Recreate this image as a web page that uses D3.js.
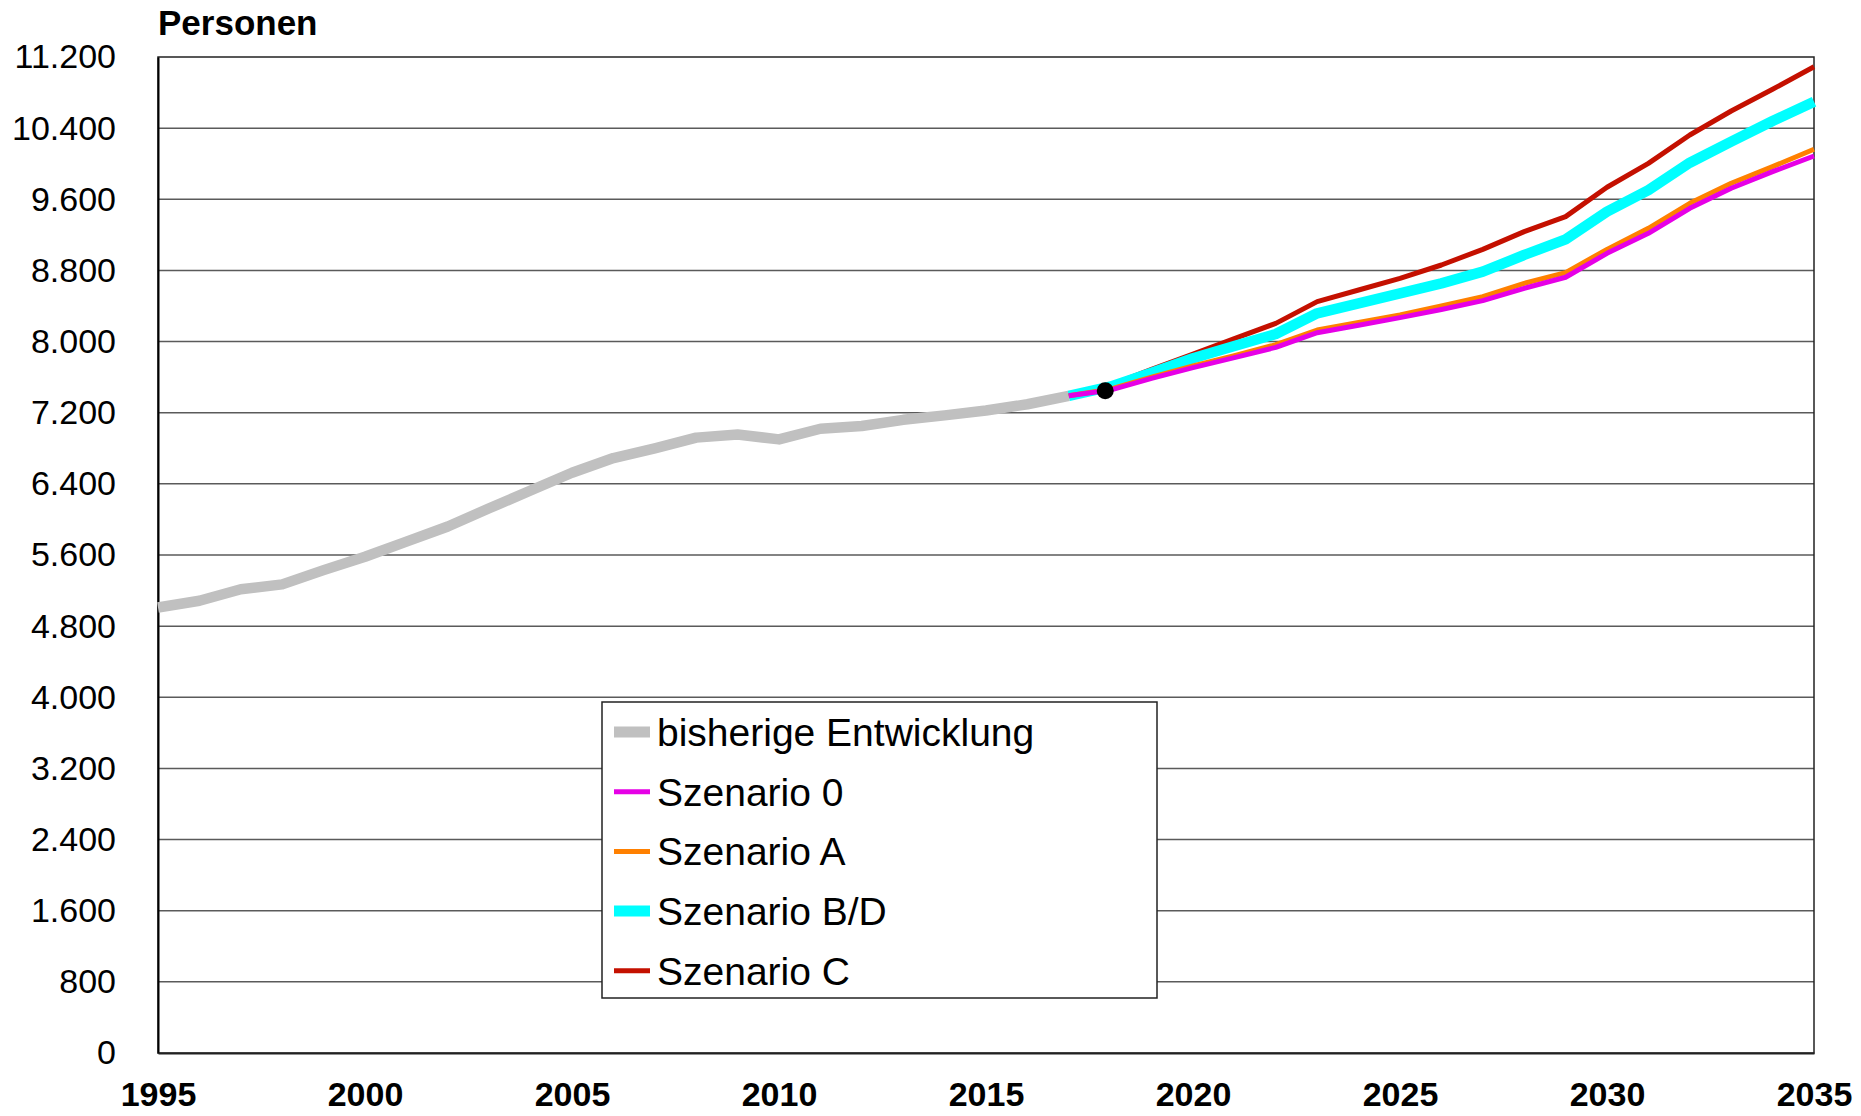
<!DOCTYPE html>
<html>
<head>
<meta charset="utf-8">
<script src="https://cdn.jsdelivr.net/npm/d3@7"></script>
<style>
  body { margin: 0; background: #fff; }
  text { font-family: "Liberation Sans", Arial, sans-serif; }
</style>
</head>
<body>
<div id="chart"></div>
<script>
// historical values 1995-2017
var histYears = d3.range(1995, 2018);
var histValues = [5010, 5085, 5215, 5270, 5430, 5580, 5750, 5920, 6125, 6325, 6525, 6690,
                  6800, 6920, 6955, 6900, 7020, 7050, 7120, 7170, 7225, 7295, 7390];

// projections 2017-2035
var projYears = d3.range(2017, 2036);
var scen0  = [7390, 7455, 7587, 7707, 7819, 7935, 8100, 8183, 8269, 8360, 8460, 8599, 8723, 8992, 9217, 9499, 9724, 9911, 10087];
var scenA  = [7390, 7465, 7600, 7725, 7840, 7965, 8130, 8215, 8300, 8400, 8505, 8655, 8775, 9037, 9274, 9555, 9780, 9967, 10162];
var scenBD = [7390, 7493, 7650, 7812, 7950, 8085, 8318, 8430, 8543, 8655, 8786, 8974, 9150, 9461, 9704, 10011, 10248, 10480, 10698];
var scenC  = [7390, 7508, 7688, 7860, 8033, 8205, 8449, 8580, 8711, 8861, 9037, 9236, 9405, 9735, 10004, 10323, 10593, 10837, 11091];

// marked base point (black dot)
var basePoint = [2017.88, 7448];

var xTicks = [1995, 2000, 2005, 2010, 2015, 2020, 2025, 2030, 2035];
var yTicks = d3.range(0, 11201, 800);

var legendLabels = ["bisherige Entwicklung", "Szenario 0", "Szenario A", "Szenario B/D", "Szenario C"];

var svgWidth = 1861, svgHeight = 1116;
var margin = { top: 57, right: 47, bottom: 63, left: 158 };
var width = svgWidth - margin.left - margin.right;
var height = svgHeight - margin.top - margin.bottom;

var svg = d3.select("#chart").append("svg")
    .attr("width", svgWidth)
    .attr("height", svgHeight);

var g = svg.append("g").attr("transform", "translate(" + margin.left + "," + margin.top + ")");

var x = d3.scaleLinear().domain([1995, 2035]).range([0, width]);
var y = d3.scaleLinear().domain([0, 11200]).range([height, 0]);

var de = d3.formatLocale({ decimal: ",", thousands: ".", grouping: [3], currency: ["", "€"] });
var fmt = de.format(",d");

// gridlines
g.selectAll(".grid").data(yTicks.slice(1, -1)).enter().append("line")
    .attr("x1", 0).attr("x2", width)
    .attr("y1", d => y(d)).attr("y2", d => y(d))
    .attr("stroke", "#5a5a5a").attr("stroke-width", 1.5);

// plot border
g.append("rect").attr("x", 0).attr("y", 0).attr("width", width).attr("height", height)
    .attr("fill", "none").attr("stroke", "#222").attr("stroke-width", 1.5);

// y axis labels
var yAxis = d3.axisLeft(y).tickValues(yTicks).tickFormat(fmt).tickSize(0).tickPadding(42);
var gy = g.append("g").call(yAxis);
gy.select(".domain").attr("stroke", "#000").attr("stroke-width", 2);
gy.selectAll("text").attr("font-size", 34).attr("fill", "#000")
    .style("font-family", "'Liberation Sans', Arial, sans-serif");

// x axis labels
var xAxis = d3.axisBottom(x).tickValues(xTicks).tickFormat(d3.format("d")).tickSize(0).tickPadding(29);
var gx = g.append("g").attr("transform", "translate(0," + height + ")").call(xAxis);
gx.select(".domain").attr("stroke", "#222").attr("stroke-width", 2);
gx.selectAll("text").attr("font-size", 34).attr("font-weight", "bold").attr("fill", "#000")
    .style("font-family", "'Liberation Sans', Arial, sans-serif");

// unit label
svg.append("text").attr("x", 158).attr("y", 35)
    .attr("font-size", 35).attr("font-weight", "bold").text("Personen");

var line = d3.line().x(d => x(d[0])).y(d => y(d[1]));

function drawSeries(years, values, color, w) {
    g.append("path")
        .datum(years.map((yr, i) => [yr, values[i]]))
        .attr("d", line)
        .attr("fill", "none")
        .attr("stroke", color)
        .attr("stroke-width", w)
        .attr("stroke-linejoin", "round");
}

drawSeries(histYears, histValues, "#c0c0c0", 10.5);
drawSeries(projYears, scenC, "#c41000", 5);
drawSeries(projYears, scenBD, "#00ffff", 10.5);
drawSeries(projYears, scenA, "#ff8000", 5);
drawSeries(projYears, scen0, "#e600e6", 5);

g.append("circle")
    .attr("cx", x(basePoint[0])).attr("cy", y(basePoint[1]))
    .attr("r", 8.5).attr("fill", "#000");

// legend
var legendColors = ["#c0c0c0", "#e600e6", "#ff8000", "#00ffff", "#c41000"];
var legendWidths = [11, 5, 5, 11, 5];
var legend = svg.append("g").attr("transform", "translate(602,702)");
legend.append("rect").attr("width", 555).attr("height", 296)
    .attr("fill", "#fff").attr("stroke", "#222").attr("stroke-width", 1.5);
legendLabels.forEach(function(lbl, i) {
    var cy = 30 + i * 59.7;
    legend.append("line")
        .attr("x1", 12).attr("x2", 48).attr("y1", cy).attr("y2", cy)
        .attr("stroke", legendColors[i]).attr("stroke-width", legendWidths[i]);
    legend.append("text")
        .attr("x", 55).attr("y", cy + 14)
        .attr("font-size", 39).attr("fill", "#000")
        .text(lbl);
});
</script>
</body>
</html>
